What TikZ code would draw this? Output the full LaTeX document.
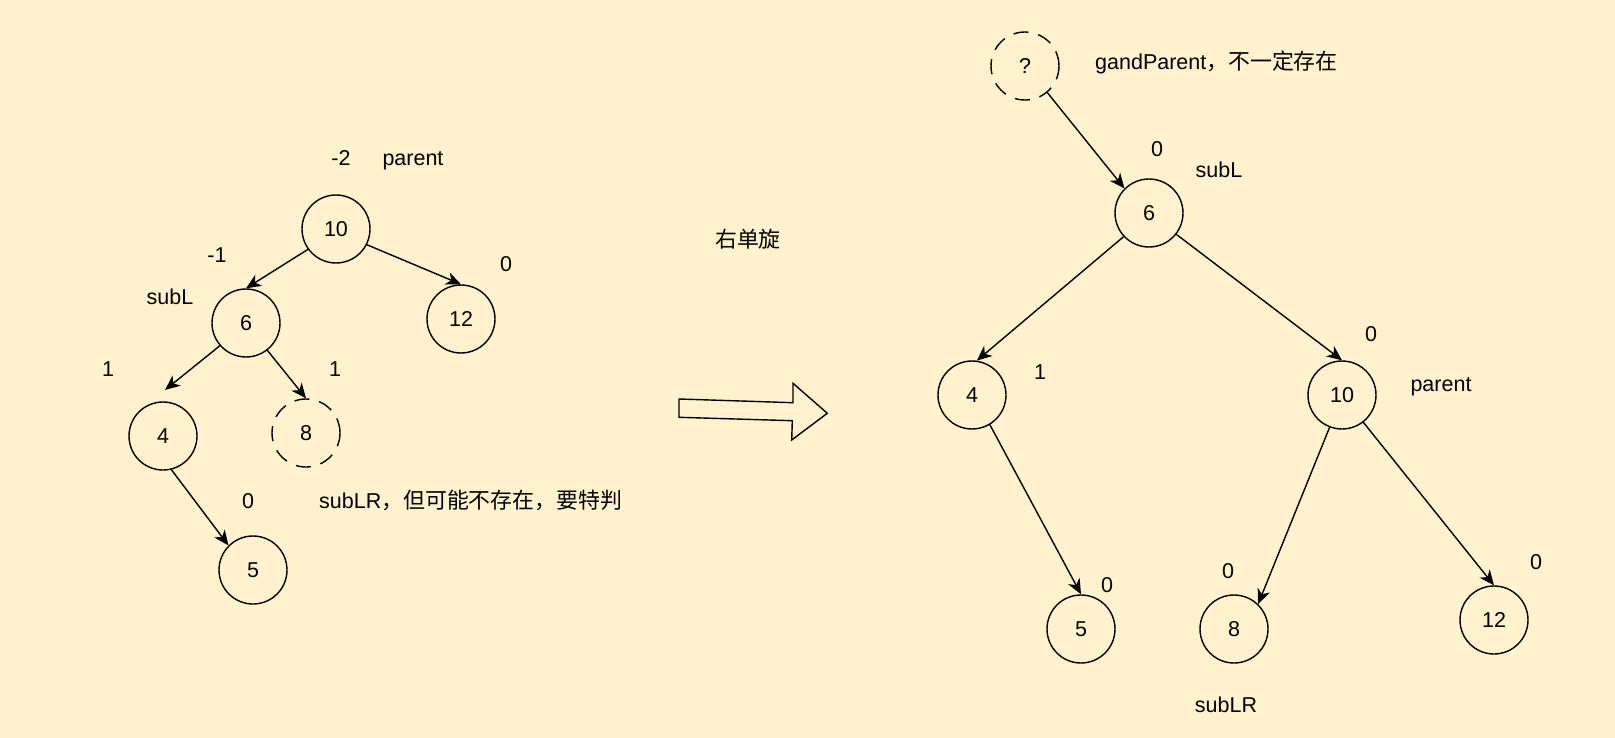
\documentclass[tikz,border=0pt]{standalone}
\usepackage{fontspec}
\setmainfont{Liberation Sans}
\newfontfamily\cjk{Noto Sans CJK SC}
\usetikzlibrary{arrows.meta}
\definecolor{bgc}{RGB}{255,242,204}
\newcommand{\cj}[1]{{\cjk\fontsize{21.9pt}{26pt}\selectfont #1}}
\tikzset{
  tnode/.style={circle,draw,line width=1.4pt,minimum size=68pt,inner sep=0pt,font=\fontsize{21.5pt}{25pt}\selectfont},
  dnode/.style={tnode,dash pattern=on 15pt off 10pt},
  lbl/.style={anchor=base,inner sep=0pt,font=\fontsize{21.5pt}{25pt}\selectfont},
  lblw/.style={lbl,anchor=base west},
  edge/.style={line width=1.4pt,-{Stealth[length=15pt,width=13pt,inset=4.5pt]}}
}
\begin{document}
\begin{tikzpicture}[x=1pt,y=-1pt]
\useasboundingbox[fill=bgc] (0,0) rectangle (1615,738);
% left tree
\node[tnode] (L10) at (336,229) {10};
\node[tnode] (L6) at (246,323) {6};
\node[tnode] (L12) at (461,319) {12};
\node[tnode] (L4) at (163,436) {4};
\node[dnode] (L8) at (306,433) {8};
\node[tnode] (L5) at (253,570) {5};
\coordinate (e4) at (165,390);
\draw[edge] (L10.216) -- (L6.north);
\draw[edge] (L10.-27) -- (L12.north);
\draw[edge] (L6.221) -- (e4);
\draw[edge] (L6.-52) -- (L8.north);
\draw[edge] (L4.-76) -- (L5.135);
\node[lbl] (t1) at (341,166) {-2};
\node[lbl] (t2) at (413,166) {parent};
\node[lbl] (t3) at (217,262) {-1};
\node[lbl] (t4) at (506,272) {0};
\node[lbl] (t5) at (170,304) {subL};
\node[lbl] (t6) at (108,376) {1};
\node[lbl] (t7) at (335,376) {1};
\node[lbl] (t8) at (248,508) {0};
\node[lblw] (t9) at (319,508) {subLR\cj{，但可能不存在，要特判}};
% middle
\node[lbl] (t10) at (748,248) {\cj{右单旋}};
\draw[line width=1.4pt] (679,399) -- (793,402.7) -- (793,383.3) -- (827.3,413.3) -- (791.7,440) -- (792.3,420.7) -- (679,417.3) -- cycle;
% right tree
\node[dnode] (Q) at (1025,66) {?};
\node[tnode] (R6) at (1149,213) {6};
\node[tnode] (R4) at (972,395) {4};
\node[tnode] (R10) at (1342,395) {10};
\node[tnode] (R5) at (1081,629) {5};
\node[tnode] (R8) at (1234,629) {8};
\node[tnode] (R12) at (1494,620) {12};
\draw[edge] (Q.-50) -- (R6.135);
\draw[edge] (R6.-137) -- (R4.82);
\draw[edge] (R6.-38) -- (R10.north);
\draw[edge] (R4.-59) -- (R5.north);
\draw[edge] (R10.-111) -- (R8.46);
\draw[edge] (R10.-52) -- (R12.north);
\node[lblw] (s1) at (1095,70) {gandParent\cj{，不一定存在}};
\node[lbl] (s2) at (1157,157) {0};
\node[lbl] (s3) at (1219,178) {subL};
\node[lbl] (s4) at (1371,341) {0};
\node[lbl] (s5) at (1441,391) {parent};
\node[lbl] (s6) at (1040,379) {1};
\node[lbl] (s7) at (1107,592) {0};
\node[lbl] (s8) at (1228,578) {0};
\node[lbl] (s9) at (1536,569) {0};
\node[lbl] (s10) at (1226,712) {subLR};
\end{tikzpicture}
\end{document}
